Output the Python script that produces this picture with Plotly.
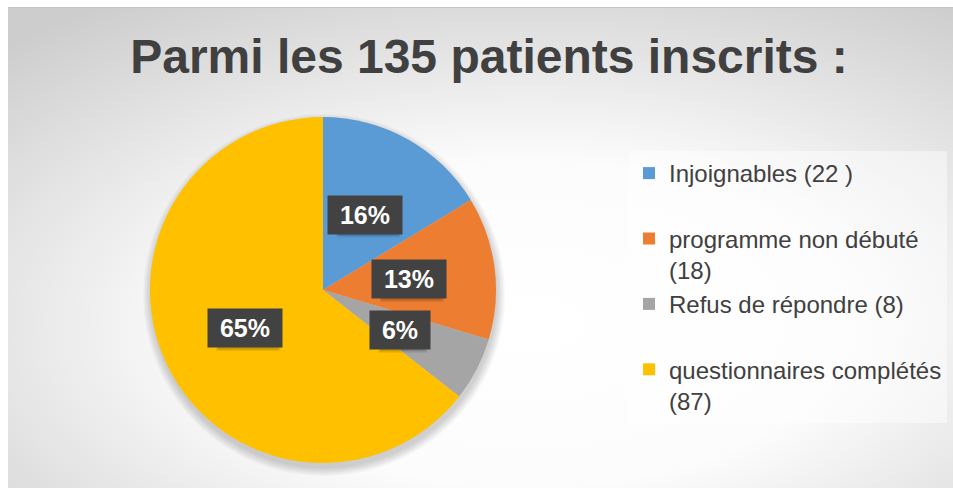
import base64
import math
import plotly.graph_objects as go

# ---------------- data ----------------
categories = ["Injoignables (22 )", "programme non débuté<br>(18)",
              "Refus de répondre (8)", "questionnaires complétés<br>(87)"]
values = [22, 18, 8, 87]
pct_labels = ["16%", "13%", "6%", "65%"]
colors = ["#5B9BD5", "#ED7D31", "#A5A5A5", "#FFC000"]
title_text = "Parmi les 135 patients inscrits :"

# ---------------- layout constants (pixels) ----------------
W, H = 953, 488
CX, CY, R = 323, 290, 173          # pie centre / radius
BG_X0, BG_Y0 = 8, 7                # chart area origin (white strip above/left)
FONT = "Liberation Sans, Arial, sans-serif"
TXT = "#404040"

def px(x):
    return x / W

def py(y):
    return 1 - y / H

# legend labels: every entry two lines tall
legend_labels = [c if "<br>" in c else c + "<br> " for c in categories]

fig = go.Figure()
fig.add_trace(go.Pie(
    labels=legend_labels,
    values=values,
    marker=dict(colors=colors, line=dict(width=0)),
    sort=False,
    direction="clockwise",
    rotation=0,
    textinfo="none",
    hoverinfo="label+value+percent",
    domain=dict(x=[px(CX - R), px(CX + R)], y=[py(CY + R), py(CY - R)]),
))

# ---------------- background radial gradient ----------------
bw, bh = W - BG_X0, H - BG_Y0
svg = f'''<svg xmlns="http://www.w3.org/2000/svg" width="{bw}" height="{bh}" viewBox="0 0 {bw} {bh}" preserveAspectRatio="none">
<defs><radialGradient id="g" cx="0.55" cy="0.66" r="0.8" gradientUnits="objectBoundingBox">
<stop offset="0" stop-color="#ffffff"/><stop offset="0.42" stop-color="#fcfcfc"/>
<stop offset="1" stop-color="#cdcdcd"/></radialGradient></defs>
<rect x="0" y="0" width="{bw}" height="{bh}" fill="url(#g)"/>
<line x1="0" y1="0.5" x2="{bw}" y2="0.5" stroke="#c4c4c4" stroke-width="1"/>
</svg>'''
src = "data:image/svg+xml;base64," + base64.b64encode(svg.encode()).decode()

images = [dict(source=src, xref="paper", yref="paper", x=px(BG_X0), y=py(BG_Y0),
               sizex=bw / W, sizey=bh / H, sizing="stretch", xanchor="left",
               yanchor="top", layer="below")]

# soft pie shadow
shapes = []
for i in range(6):
    rr = R + 0.5 + i * 1.5
    oy = 5
    shapes.append(dict(type="circle", xref="paper", yref="paper", layer="below",
                       x0=px(CX - rr + 1), x1=px(CX + rr + 1),
                       y0=py(CY + oy + rr), y1=py(CY + oy - rr),
                       fillcolor="rgba(0,0,0,0.03)", line=dict(width=0)))

# ---------------- data labels (dark boxes) ----------------
annotations = []
total = sum(values)
cum = 0
for v, lab in zip(values, pct_labels):
    mid = (cum + v / 2) / total * 2 * math.pi
    cum += v
    lx = CX + 0.5 * R * math.sin(mid)
    ly = CY - 0.5 * R * math.cos(mid)
    half_w = 8 + 7.5 * len(lab)      # box half width in px
    # drop shadow of the label box (pixel-sized shape anchored at the label)
    for k, a in ((0, 0.14), (1.5, 0.08)):
        shapes.append(dict(type="rect", xref="paper", yref="paper",
                           xsizemode="pixel", ysizemode="pixel",
                           xanchor=px(lx), yanchor=py(ly), layer="above",
                           x0=-half_w + 3 - k, x1=half_w + 3 + k,
                           y0=-18.5 - 3 - k, y1=18.5 - 3 + k,
                           fillcolor=f"rgba(0,0,0,{a})", line=dict(width=0)))
    annotations.append(dict(x=px(lx), y=py(ly), xref="paper", yref="paper",
                            xanchor="center", yanchor="middle", showarrow=False,
                            borderpad=5, text="<b>\u00a0" + lab + "\u00a0</b>",
                            font=dict(family=FONT, size=25, color="#FFFFFF"),
                            bgcolor="#424242"))

fig.update_layout(
    width=W, height=H,
    margin=dict(l=0, r=0, t=0, b=0),
    paper_bgcolor="#FFFFFF",
    plot_bgcolor="rgba(0,0,0,0)",
    images=images,
    shapes=shapes,
    annotations=annotations,
    title=dict(text="<b>" + title_text + "</b>", x=px(489), xanchor="center",
               y=py(56), yanchor="middle", yref="paper",
               font=dict(family=FONT, size=48, color=TXT)),
    legend=dict(x=px(629), y=py(151), xanchor="left", yanchor="top",
                valign="top", bgcolor="rgba(255,255,255,0.45)", borderwidth=0,
                font=dict(family=FONT, size=24, color=TXT), traceorder="normal"),
    showlegend=True,
)

fig.write_html("out.html", config={"displayModeBar": False},
               post_script="document.body.style.margin='0';")
